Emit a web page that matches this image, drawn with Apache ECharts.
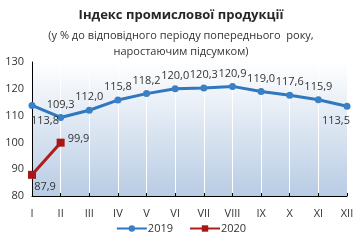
<!DOCTYPE html>
<html><head><meta charset="utf-8">
<script src="https://cdn.jsdelivr.net/npm/echarts@6/dist/echarts.min.js"></script>
<style>html,body{margin:0;padding:0;background:#fff}#c{width:362px;height:240px}</style>
</head><body><div id="c"></div>
<script>
const categories = ['I','II','III','IV','V','VI','VII','VIII','IX','X','XI','XII'];
const s2019 = [113.8,109.3,112.0,115.8,118.2,120.0,120.3,120.9,119.0,117.6,115.9,113.5];
const s2020 = [87.9,99.9];
const yTicks = [80,90,100,110,120,130];
const fmt = v => v.toFixed(1).replace('.', ',');
const pos2019 = ['bottom','top','top','top','top','top','top','top','top','top','top','bottom'];
const off2019 = [[13,2],[0,0],[0,0],[0,0],[0,0],[0,0],[0,0],[0,0],[0,0],[0,0],[0,0],[-11,2]];
const chart = echarts.init(document.getElementById('c'));
const font = 'Open Sans, Liberation Sans, sans-serif';
chart.setOption({
  animation:false,
  title:[{text:'Індекс промислової продукції',left:'center',top:4,textStyle:{fontSize:13,fontWeight:'bold',color:'#262626',fontFamily:font}},
         {text:'(у % до відповідного періоду попереднього  року,',left:'center',top:25,
          textStyle:{fontSize:11,fontWeight:'normal',color:'#333',fontFamily:font}},
         {text:'наростаючим підсумком)',left:'center',top:41,
          textStyle:{fontSize:11,fontWeight:'normal',color:'#333',fontFamily:font}}],
  grid:{left:32,right:15,top:62,bottom:44,show:true,borderWidth:0,
    backgroundColor:{type:'linear',x:0,y:0,x2:0,y2:1,colorStops:[{offset:0,color:'#ffffff'},{offset:1,color:'#b8cce4'}]}},
  legend:{bottom:1,left:'center',itemWidth:30,itemHeight:8,itemGap:16,textStyle:{fontSize:11,color:'#333',fontFamily:font,padding:[0,0,0,-4]},
    data:['2019','2020']},
  xAxis:{type:'category',data:categories,boundaryGap:false,
    axisLine:{lineStyle:{color:'#000',width:1}},axisTick:{show:true,length:3,inside:true,lineStyle:{color:'#000'}},
    axisLabel:{fontSize:11,color:'#333',margin:12,fontFamily:font},
    splitLine:{show:true,lineStyle:{color:'#fff',width:1}}},
  yAxis:{type:'value',min:yTicks[0],max:yTicks[yTicks.length-1],interval:10,
    axisLine:{show:true,lineStyle:{color:'#000'}},axisTick:{show:false},
    axisLabel:{fontSize:11,color:'#333',margin:8,fontFamily:font},splitLine:{show:false}},
  series:[
    {name:'2019',type:'line',data:s2019.map((v,i)=>({value:v,label:{position:pos2019[i],offset:off2019[i]}})),symbol:'circle',symbolSize:7,
     lineStyle:{color:'#2f77bf',width:3},itemStyle:{color:'#3b80c4'},
     label:{show:true,formatter:p=>fmt(p.value),fontSize:11,color:'#333',fontFamily:font,distance:4}},
    {name:'2020',type:'line',data:s2020.map((v,i)=>({value:v,label:i===0?{position:'bottom',offset:[13,0]}:{position:'right'}})),symbol:'rect',symbolSize:8,
     lineStyle:{color:'#b01c1c',width:3},itemStyle:{color:'#a81616'},
     label:{show:true,formatter:p=>fmt(p.value),fontSize:11,color:'#333',fontFamily:font,distance:3,offset:[0,-4]}}
  ]
});
</script></body></html>
